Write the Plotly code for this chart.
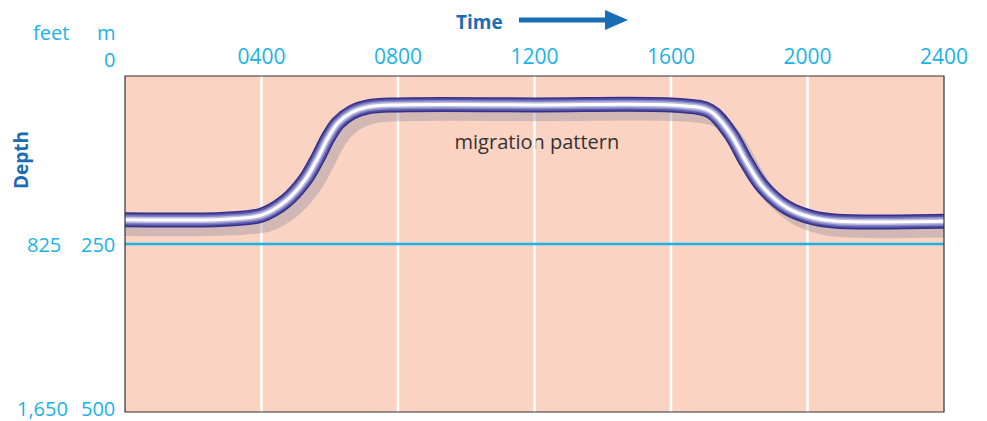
import plotly.graph_objects as go

# ---- data ----
time_ticks = [400, 800, 1200, 1600, 2000, 2400]
time_labels = ["0400", "0800", "1200", "1600", "2000", "2400"]
grid_times = [400, 800, 1200, 1600, 2000]

depth_m_ticks = [0, 250, 500]
depth_m_labels = ["0", "250", "500"]
depth_ft_labels = ["", "825", "1,650"]

ref_depth = 250

path_time = [0, 293, 400, 469, 527, 565, 595, 624, 665, 712, 800, 1200,
             1626, 1714, 1773, 1822, 1869, 1940, 2016, 2086, 2400]
path_depth = [214, 213, 207, 187, 155, 122, 92, 70, 54, 46, 43, 43,
              44, 52, 85, 129, 165, 196, 211, 216, 216]

CYAN = "#1ab3e8"
DARK_BLUE = "#1a6db5"
BG = "#fbd3c2"
FONT = "Open Sans, Noto Sans, sans-serif"

# page body has an 8px margin: figure is sized/margined to compensate
W, H, OFF = 987, 421, 8
PL, PR, PT, PB = 125, 944, 76, 412  # plot area in page pixels

fig = go.Figure()

# label (under grid lines)
fig.add_trace(go.Scatter(x=[1207], y=[101], mode="text", text=["migration pattern"],
                         textfont=dict(family=FONT, size=20, color="#333333"),
                         hoverinfo="skip", showlegend=False))

# white grid lines (drawn as traces so they sit over the label)
for t in grid_times:
    fig.add_trace(go.Scatter(x=[t, t], y=[0, 500], mode="lines",
                             line=dict(color="white", width=2.5),
                             hoverinfo="skip", showlegend=False))

# shadow
dx, dy = 22, 13
sx = [t + dx if 0 < t < 2400 else t for t in path_time]
sy = [d + dy for d in path_depth]
fig.add_trace(go.Scatter(x=sx, y=sy, mode="lines",
                         line=dict(color="rgba(150,145,160,0.40)", width=15,
                                   shape="spline", smoothing=1.0),
                         hoverinfo="skip", showlegend=False))

# tube
for w, c in [(15, "#35318a"), (12, "#5553a6"), (9, "#8684c4"), (6, "#bcbce0"), (3, "#ffffff")]:
    fig.add_trace(go.Scatter(x=path_time, y=path_depth, mode="lines",
                             line=dict(color=c, width=w, shape="spline", smoothing=1.0),
                             hoverinfo="skip", showlegend=False))

# reference line at 250 m
fig.add_shape(type="line", xref="paper", x0=0, x1=1, yref="y", y0=ref_depth, y1=ref_depth,
              line=dict(color=CYAN, width=2.5), layer="above")

# frame
fig.add_shape(type="rect", xref="paper", yref="paper", x0=0, x1=1, y0=0, y1=1,
              line=dict(color="#333333", width=1.2), layer="above")


def px(xp):
    return (xp - PL) / (PR - PL)


def py(yp):
    return (PB - yp) / (PB - PT)


# depth labels
for v, m, ft in zip(depth_m_ticks, depth_m_labels, depth_ft_labels):
    ys = 17 if v == 0 else (4 if v == 500 else 0)
    fig.add_annotation(x=px(117), xref="paper", y=v, yref="y", text=m, showarrow=False,
                       xanchor="right", yanchor="middle", yshift=ys,
                       font=dict(family=FONT, size=20, color=CYAN))
    if ft:
        fig.add_annotation(x=px(63) if ft == "825" else px(70), xref="paper", y=v, yref="y",
                           text=ft, showarrow=False, xanchor="right", yanchor="middle", yshift=ys,
                           font=dict(family=FONT, size=20, color=CYAN))

fig.add_annotation(x=px(118), xref="paper", y=py(32), yref="paper", text="m", showarrow=False,
                   xanchor="right", yanchor="middle", font=dict(family=FONT, size=20, color=CYAN))
fig.add_annotation(x=px(71), xref="paper", y=py(32), yref="paper", text="feet", showarrow=False,
                   xanchor="right", yanchor="middle", font=dict(family=FONT, size=20, color=CYAN))

# titles
fig.add_annotation(x=px(479), xref="paper", y=py(21.5), yref="paper", text="<b>Time</b>", showarrow=False,
                   xanchor="center", yanchor="middle", font=dict(family=FONT, size=19, color=DARK_BLUE))
fig.add_annotation(x=px(21), xref="paper", y=py(160), yref="paper", text="<b>Depth</b>", showarrow=False,
                   textangle=-90, xanchor="center", yanchor="middle",
                   font=dict(family=FONT, size=19, color=DARK_BLUE))

# time arrow
fig.add_shape(type="line", xref="paper", yref="paper", x0=px(519), x1=px(608), y0=py(20), y1=py(20),
              line=dict(color=DARK_BLUE, width=5))
fig.add_shape(type="path", xref="paper", yref="paper",
              path=f"M {px(605)} {py(10)} L {px(628)} {py(20)} L {px(605)} {py(30)} Z",
              fillcolor=DARK_BLUE, line=dict(color=DARK_BLUE, width=0))

fig.update_layout(
    width=W - OFF, height=H - OFF,
    margin=dict(l=PL - OFF, r=W - PR, t=PT - OFF, b=H - PB),
    paper_bgcolor="white", plot_bgcolor=BG,
    showlegend=False,
    xaxis=dict(range=[0, 2400], side="top", tickvals=time_ticks, ticktext=time_labels,
               showgrid=False, zeroline=False, showline=False,
               ticks="outside", ticklen=3, tickcolor="rgba(0,0,0,0)",
               tickfont=dict(family=FONT, size=21, color=CYAN), fixedrange=True),
    yaxis=dict(range=[500, 0], showgrid=False, zeroline=False, showline=False,
               showticklabels=False, ticks="", fixedrange=True),
)

fig.write_html("out.html")
